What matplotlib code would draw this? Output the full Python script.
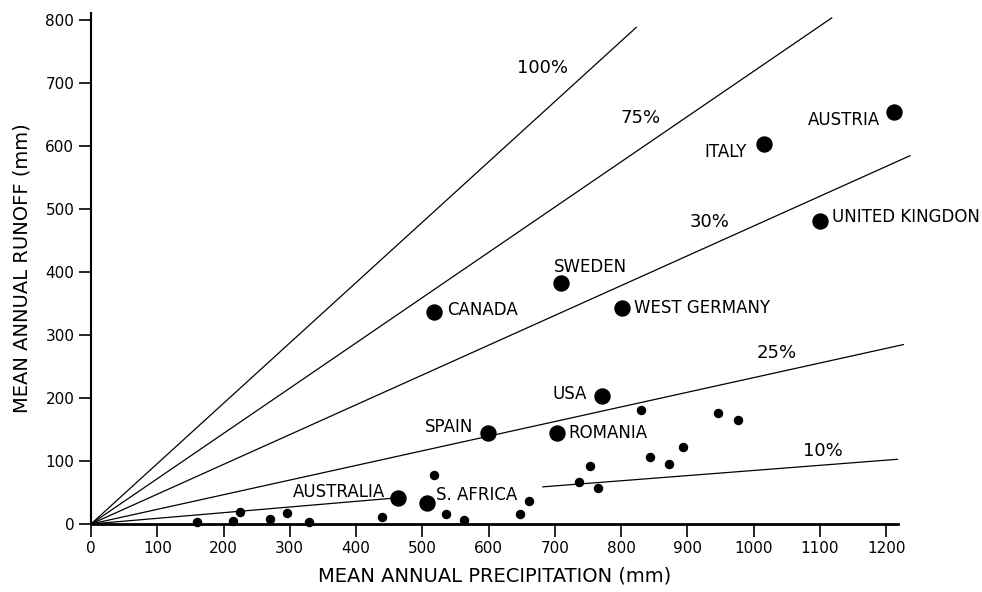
import matplotlib
matplotlib.use("Agg")
from matplotlib import pyplot as plt

# countries (large dots)
countries = ['AUSTRALIA', 'S. AFRICA', 'SPAIN', 'ROMANIA', 'USA', 'CANADA',
             'SWEDEN', 'WEST GERMANY', 'ITALY', 'AUSTRIA', 'UNITED KINGDON']
country_precip = [463, 507, 599, 703, 771, 518, 709, 801, 1016, 1212, 1100]
country_runoff = [41, 33, 145, 145, 204, 337, 383, 343, 603, 655, 482]

# label anchor for each country, in data units, and alignment
label_x = [444, 521, 577, 721, 749, 537, 753, 820, 990, 1191, 1118]
label_y = [51, 46, 154, 145, 207, 340, 409, 343, 591, 642, 488]
label_ha = ['right', 'left', 'right', 'left', 'right', 'left',
            'center', 'left', 'right', 'right', 'left']

# small basins (small dots)
basin_precip = [160, 214, 225, 270, 296, 329, 439, 518, 536, 563, 648, 661,
                737, 753, 765, 830, 844, 872, 894, 946, 977]
basin_runoff = [3, 5, 19, 8, 17, 3, 11, 78, 16, 6, 16, 36,
                67, 92, 57, 181, 106, 95, 122, 176, 165]

# runoff ratio lines, from the origin to these ends
ratio_names = ['100%', '75%', '30%', '25%']
ratio_end_x = [823, 1118, 1236, 1226]
ratio_end_y = [789, 804, 585, 285]

# the 10% line is drawn in two pieces
ten_left_x = [0, 456]
ten_left_y = [0, 41]
ten_right_x = [682, 1220]
ten_right_y = [59, 103]

pct_names = ['100%', '75%', '30%', '25%', '10%']
pct_x = [681, 829, 934, 1035, 1105]
pct_y = [725, 645, 480, 272, 116]

fig = plt.figure(figsize=(9.82, 5.92), dpi=100)
ax = fig.add_axes([0.0927, 0.1149, 0.8218, 0.8634])

for ex, ey in zip(ratio_end_x, ratio_end_y):
    ax.plot([0, ex], [0, ey], color='black', lw=0.9, clip_on=False)
ax.plot(ten_left_x, ten_left_y, color='black', lw=0.9)
ax.plot(ten_right_x, ten_right_y, color='black', lw=0.9)

ax.plot(basin_precip, basin_runoff, 'o', color='black', ms=5.8,
        clip_on=False, zorder=3)
ax.plot(country_precip, country_runoff, 'o', color='black', ms=10.8,
        clip_on=False, zorder=3)

for name, x, y, ha in zip(countries, label_x, label_y, label_ha):
    ax.text(x, y, name, ha=ha, va='center', fontsize=12)

for name, x, y in zip(pct_names, pct_x, pct_y):
    ax.text(x, y, name, ha='center', va='center', fontsize=13)

ax.set_xlim(0, 1218)
ax.set_ylim(0, 812)
ax.set_xticks(range(0, 1201, 100))
ax.set_yticks(range(0, 801, 100))
ax.tick_params(direction='out', length=9, width=1.2, labelsize=11, pad=3)
for side in ['top', 'right']:
    ax.spines[side].set_visible(False)
ax.spines['left'].set_linewidth(1.5)
ax.spines['bottom'].set_linewidth(2)

ax.set_xlabel('MEAN ANNUAL PRECIPITATION (mm)', fontsize=14, labelpad=8)
ax.set_ylabel('MEAN ANNUAL RUNOFF (mm)', fontsize=14, labelpad=10)

fig.savefig('out.png', dpi=100)
